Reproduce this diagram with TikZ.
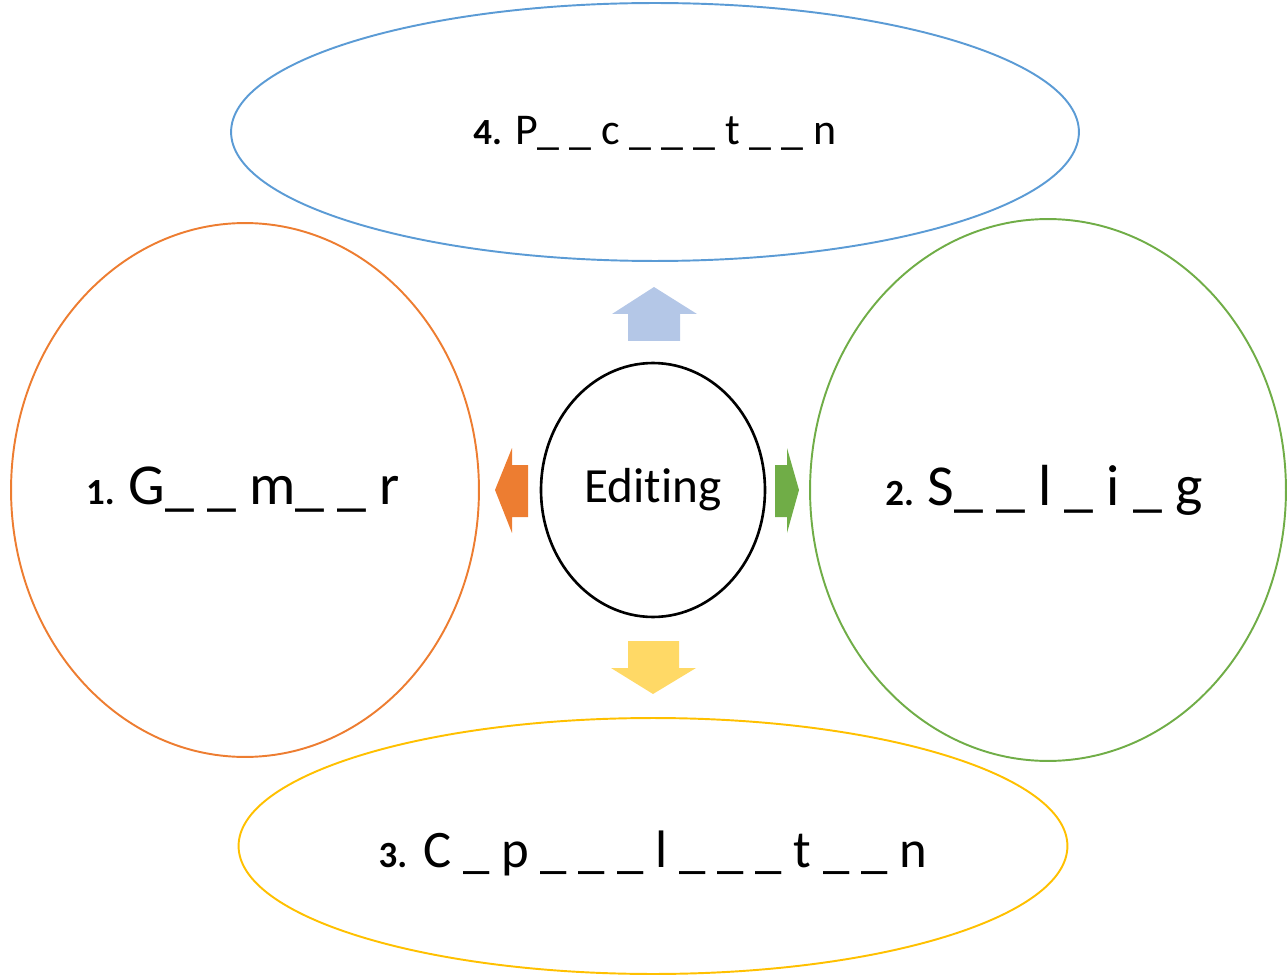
\documentclass[tikz,border=0pt]{standalone}
\usepackage{fontspec}
\setmainfont{Carlito}[BoldFont={Carlito Bold},RawFeature=-liga]
\usepackage{tikz}
\usetikzlibrary{shapes.geometric}

\definecolor{ringblue}{HTML}{5B9BD5}
\definecolor{ringorange}{HTML}{ED7D31}
\definecolor{ringgreen}{HTML}{70AD47}
\definecolor{ringyellow}{HTML}{FFC000}
\definecolor{arrowblue}{HTML}{B4C7E7}
\definecolor{arrowyellow}{HTML}{FFD966}

\newcommand{\wordnum}[1]{{\fontsize{21}{25}\selectfont\textbf{#1}}}

\begin{document}
\begin{tikzpicture}[x=0.02cm,y=-0.02cm,
    ring/.style={ellipse, draw, line width=1.1pt, inner sep=0pt}]
    \useasboundingbox (0,0) rectangle (1288,976);

    % centre
    \node[ring, draw=black, line width=1.5pt, minimum width=4.48cm, minimum height=5.08cm,
      font=\fontsize{28}{34}\selectfont] (edit) at (653,490) {Editing};

    % the four rings
    \node[ring, draw=ringorange, minimum width=9.36cm, minimum height=10.68cm] (gmr) at (245,490) {};
    \node[ring, draw=ringgreen, minimum width=9.52cm, minimum height=10.84cm] (spl) at (1048,490) {};
    \node[ring, draw=ringyellow, minimum width=16.58cm, minimum height=5.12cm] (cap) at (653,846) {};
    \node[ring, draw=ringblue, minimum width=16.96cm, minimum height=5.16cm] (pun) at (655,132) {};

    % the words
    \node[font=\fontsize{33}{40}\selectfont, xshift=-0.04cm] (gmrtext) at (gmr) {\wordnum{1.}\hspace{-2pt} G\_ \_ m\_ \_ r};
    \node[font=\fontsize{33}{40}\selectfont, xshift=-0.08cm] (spltext) at (spl) {\wordnum{2.}\hspace{-2pt} S\_ \_ l \_ i \_ g};
    \node[font=\fontsize{30}{36}\selectfont, yshift=-0.14cm] (captext) at (cap) {\wordnum{3.} C \_ p \_ \_ \_ l \_ \_ \_ t \_ \_ n};
    \node[font=\fontsize{25}{30}\selectfont, yshift=-0.03cm] (puntext) at (pun) {\wordnum{4.} P\_ \_ c \_ \_ \_ t \_ \_ n};

    % block arrows
    \fill[arrowblue] (628,341) -- (628,314) -- (612,314) -- (654,287) -- (697,314) -- (680,314) -- (680,341) -- cycle;
    \fill[arrowyellow] (628,641) -- (628,668) -- (611,668) -- (653,694) -- (696,668) -- (679,668) -- (679,641) -- cycle;
    \fill[ringorange] (528,465) -- (512,465) -- (512,448) -- (495,490) -- (512,533) -- (512,517) -- (528,517) -- cycle;
    \fill[ringgreen] (775,465) -- (787,465) -- (787,448) -- (799,490) -- (787,533) -- (787,517) -- (775,517) -- cycle;
\end{tikzpicture}
\end{document}
